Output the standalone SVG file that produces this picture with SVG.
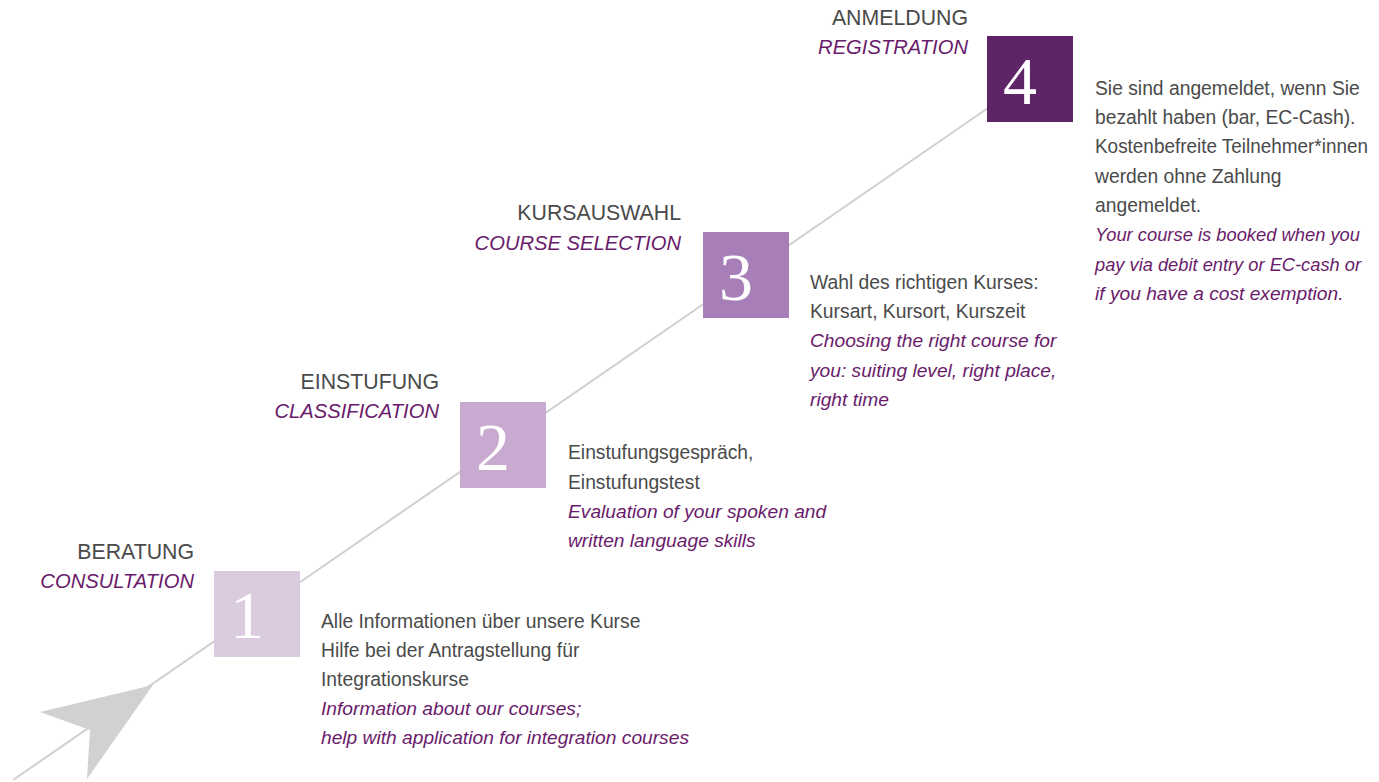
<svg xmlns="http://www.w3.org/2000/svg" width="1379" height="782" viewBox="0 0 1379 782">
<style>
.t{font-family:"Liberation Sans",Arial,sans-serif;font-size:21.3px;fill:#4a4a4a;text-anchor:end}
.ti{font-family:"Liberation Sans",Arial,sans-serif;font-size:20.2px;fill:#6a1b6b;font-style:italic;text-anchor:end}
.b{font-family:"Liberation Sans",Arial,sans-serif;font-size:19.3px;fill:#4a4a4a}
.bi{font-family:"Liberation Sans",Arial,sans-serif;font-size:19.2px;fill:#6a1b6b;font-style:italic}
.n{font-family:"Liberation Serif","Times New Roman",serif;font-size:68px;fill:#ffffff;text-anchor:middle}
</style>
<rect width="1379" height="782" fill="#ffffff"/>
<g id="connectors">
<line x1="13" y1="780" x2="988" y2="108" stroke="#d0d0d0" stroke-width="2"/>
<polygon points="153,685 40,712 90,730 87,779" fill="#d0d1d3"/>
</g>
<g id="step1">
<rect x="214" y="571" width="86" height="86" fill="#dacbdf"/>
<text class="n" x="247" y="638">1</text>
<text class="t" x="194" y="559">BERATUNG</text>
<text class="ti" x="194" y="588">CONSULTATION</text>
<text class="b" x="321" y="628">Alle Informationen über unsere Kurse</text>
<text class="b" x="321" y="657">Hilfe bei der Antragstellung für</text>
<text class="b" x="321" y="686">Integrationskurse</text>
<text class="bi" x="321" y="715">Information about our courses;</text>
<text class="bi" x="321" y="744">help with application for integration courses</text>
</g>
<g id="step2">
<rect x="460" y="402" width="86" height="86" fill="#c8a9cf"/>
<text class="n" x="493" y="470">2</text>
<text class="t" x="439" y="389">EINSTUFUNG</text>
<text class="ti" x="439" y="418">CLASSIFICATION</text>
<text class="b" x="568" y="459">Einstufungsgespräch,</text>
<text class="b" x="568" y="489">Einstufungstest</text>
<text class="bi" x="568" y="518">Evaluation of your spoken and</text>
<text class="bi" x="568" y="547">written language skills</text>
</g>
<g id="step3">
<rect x="703" y="232" width="86" height="86" fill="#a77eb8"/>
<text class="n" x="736" y="300">3</text>
<text class="t" x="681" y="220">KURSAUSWAHL</text>
<text class="ti" x="681" y="250">COURSE SELECTION</text>
<text class="b" x="810" y="289">Wahl des richtigen Kurses:</text>
<text class="b" x="810" y="318">Kursart, Kursort, Kurszeit</text>
<text class="bi" x="810" y="347">Choosing the right course for</text>
<text class="bi" x="810" y="377">you: suiting level, right place,</text>
<text class="bi" x="810" y="406">right time</text>
</g>
<g id="step4">
<rect x="987" y="36" width="86" height="86" fill="#5f2367"/>
<text class="n" x="1020" y="104">4</text>
<text class="t" x="968" y="25">ANMELDUNG</text>
<text class="ti" x="968" y="54">REGISTRATION</text>
<text class="b" x="1095" y="95">Sie sind angemeldet, wenn Sie</text>
<text class="b" x="1095" y="124">bezahlt haben (bar, EC-Cash).</text>
<text class="b" x="1095" y="153" textLength="273" lengthAdjust="spacingAndGlyphs">Kostenbefreite Teilnehmer*innen</text>
<text class="b" x="1095" y="183">werden ohne Zahlung</text>
<text class="b" x="1095" y="212">angemeldet.</text>
<text class="bi" x="1095" y="241" textLength="265" lengthAdjust="spacingAndGlyphs">Your course is booked when you</text>
<text class="bi" x="1095" y="271" textLength="266" lengthAdjust="spacingAndGlyphs">pay via debit entry or EC-cash or</text>
<text class="bi" x="1095" y="300">if you have a cost exemption.</text>
</g>
</svg>
